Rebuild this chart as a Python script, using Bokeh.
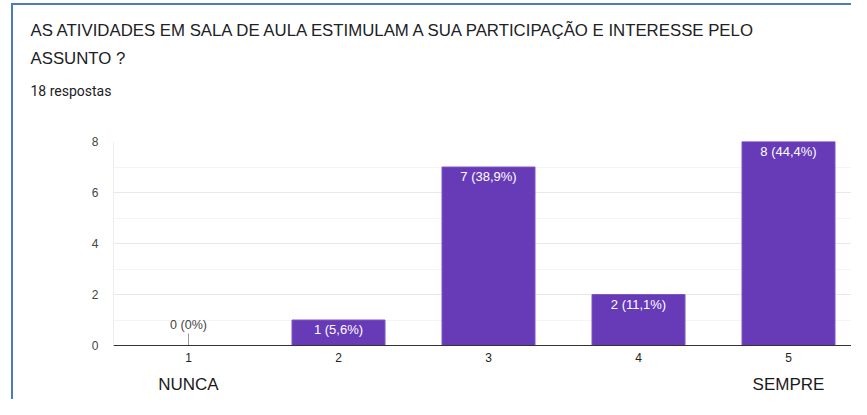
from bokeh.plotting import figure
from bokeh.models import FixedTicker, Range1d, Title, LinearAxis, ColumnDataSource
from bokeh.core.properties import value
from bokeh.embed import file_html
from bokeh.resources import INLINE

# ---- data ----
categories = [1, 2, 3, 4, 5]
counts = [0, 1, 7, 2, 8]
bar_labels = ["0 (0%)", "1 (5,6%)", "7 (38,9%)", "2 (11,1%)", "8 (44,4%)"]
y_ticks = [0, 2, 4, 6, 8]
y_minor = [1, 3, 5, 7]
title_line1 = "AS ATIVIDADES EM SALA DE AULA ESTIMULAM A SUA PARTICIPAÇÃO E INTERESSE PELO"
title_line2 = "ASSUNTO ?"
subtitle = "18 respostas"
scale_ends = {1: "NUNCA", 5: "SEMPRE"}

W, H = 851, 399
PURPLE = "#673ab7"
AX_FONT = "Liberation Sans"
BLUE = "#4a7ebb"

FL, FT, FB = 113, 141, 345
PX_X, PX_Y = 150.0, 25.5
X0 = 0.5

p = figure(width=W, height=H, output_backend="svg", toolbar_location=None,
           title=None,
           x_range=Range1d(X0, X0 + (W - FL) / PX_X), y_range=Range1d(0, 8),
           min_border_left=FL, min_border_right=0, min_border_top=FT,
           min_border_bottom=H - FB)
p.outline_line_color = None
p.background_fill_color = "white"
p.border_fill_color = None
p.styles = {
    "background": (f"linear-gradient({BLUE},{BLUE}) 11px 3px / 2px 100% no-repeat, "
                   f"linear-gradient({BLUE},{BLUE}) 11px 3px / 100% 2px no-repeat, white"),
}

# grid
p.xgrid.grid_line_color = None
p.yaxis.ticker = FixedTicker(ticks=y_ticks, minor_ticks=y_minor)
p.xaxis.ticker = FixedTicker(ticks=categories)
p.ygrid.grid_line_color = "#e8e8e8"
p.ygrid.minor_grid_line_color = "#f4f4f4"

# axes
p.yaxis.axis_line_color = "#eeeeee"
p.yaxis.major_tick_line_color = None
p.yaxis.minor_tick_line_color = None
p.yaxis.major_tick_out = 0
p.yaxis.major_label_text_font = AX_FONT
p.yaxis.major_label_text_font_size = "12px"
p.yaxis.major_label_text_color = "#444444"
p.yaxis.major_label_standoff = 11

p.xaxis.axis_line_color = "#333333"
p.xaxis.major_tick_line_color = None
p.xaxis.minor_tick_line_color = None
p.xaxis.major_tick_out = 0
p.xaxis.major_label_text_font = AX_FONT
p.xaxis.major_label_text_font_size = "12px"
p.xaxis.major_label_text_color = "#222222"
p.xaxis.major_label_standoff = 7

# scale-end captions as a second bottom axis
ends_axis = LinearAxis(ticker=FixedTicker(ticks=list(scale_ends.keys())),
                       major_label_overrides={k: v for k, v in scale_ends.items()})
ends_axis.axis_line_color = None
ends_axis.major_tick_line_color = None
ends_axis.minor_tick_line_color = None
ends_axis.major_tick_out = 0
ends_axis.major_tick_in = 0
ends_axis.minor_tick_out = 0
ends_axis.major_label_text_font = AX_FONT
ends_axis.major_label_text_font_size = "17px"
ends_axis.major_label_text_color = "#1a1a1a"
ends_axis.major_label_standoff = 10
p.add_layout(ends_axis, "below")

# bars
nz = [i for i, c in enumerate(counts) if c > 0]
src = ColumnDataSource(dict(x=[categories[i] for i in nz],
                            top=[counts[i] for i in nz],
                            lab=[bar_labels[i] for i in nz]))
p.vbar(x="x", top="top", width=0.62, source=src, fill_color=PURPLE,
       line_color="#7e57c2", line_width=1)
p.text(x="x", y="top", text="lab", source=src, text_align="center",
       text_baseline="top", y_offset=2, text_color="white",
       text_font=value(AX_FONT), text_font_size="13px")

# zero bar marker and label
zi = [i for i, c in enumerate(counts) if c == 0]
zsrc = ColumnDataSource(dict(x=[categories[i] for i in zi],
                             y=[counts[i] for i in zi],
                             lab=[bar_labels[i] for i in zi]))
p.segment(x0="x", y0="y", x1="x", y1=(FB - 333) / PX_Y, source=zsrc,
          line_color="#999999", line_width=1)
p.text(x="x", y="y", text="lab", source=zsrc, text_align="center",
       text_baseline="bottom", y_offset=-14, text_color="#444444",
       text_font=value(AX_FONT), text_font_size="12.5px")

# titles (innermost first); the first is an empty spacer
OFF = 30 - FL
for txt, font, size, standoff in [(" ", "Roboto", "14px", 13),
                                  (subtitle, "Roboto", "14px", 24),
                                  (title_line2, AX_FONT, "16.8px", 2),
                                  (title_line1, AX_FONT, "16.8px", 12)]:
    p.add_layout(Title(text=txt, align="left", offset=OFF, standoff=standoff,
                       text_font=font, text_font_size=size,
                       text_font_style="normal", text_color="#202124"), "above")

open("out.html", "w").write(file_html(p, INLINE))
